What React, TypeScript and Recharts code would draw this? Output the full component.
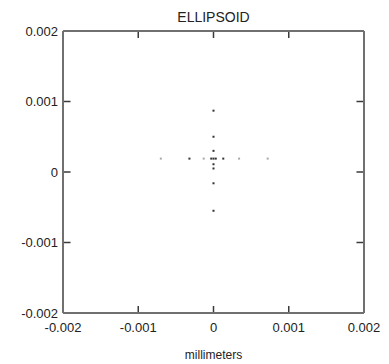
import React from 'react';
import { ScatterChart, Scatter, XAxis, YAxis, Label, ReferenceLine } from 'recharts';

// values (millimeters)
const axisTicks = [-0.002, -0.001, 0, 0.001, 0.002];
const innerTicks = [-0.001, 0, 0.001];
const rowY = 0.00019;
const columnY = [0.00087, 0.0005, 0.0003, 0.00011, 0.00005, -0.00016, -0.00055];
const rowXDark = [-0.00032, -0.00003, 0, 0.00003, 0.00013];
const rowXFaint = [-0.0007, -0.00013, 0.00034, 0.00072];

const darkPoints = [
  ...columnY.map(y => ({ x: 0, y })),
  ...rowXDark.map(x => ({ x, y: rowY })),
];
const faintPoints = rowXFaint.map(x => ({ x, y: rowY }));

const LO = -0.002;
const HI = 0.002;
const TICK_LEN = 0.0001; // inward tick length in data units (~7px)

const FONT = '"Liberation Sans", Arial, sans-serif';
const BORDER = '#707070';
const TICK = '#3a3a3a';

const Dot = (color: string) => (props: any) => (
  <rect x={props.cx - 1} y={props.cy - 1} width={2} height={2} fill={color} />
);

const BottomLabel = (props: any) => (
  <text x={props.x} y={props.y + 19} textAnchor="middle" fontSize={13} fill="#222" fontFamily={FONT}>
    {String(props.payload.value)}
  </text>
);

const LeftLabel = (props: any) => (
  <text x={props.x - 5} y={props.y + 4.5} textAnchor="end" fontSize={13} fill="#222" fontFamily={FONT}>
    {String(props.payload.value)}
  </text>
);

const NoLabel = () => <g />;

export default function App() {
  const axisLine = { stroke: BORDER, strokeWidth: 2 };
  return (
    <div style={{ position: 'fixed', left: 0, top: 0, width: 389, height: 364, background: '#fff' }}>
      <ScatterChart width={389} height={364} margin={{ top: 0, right: 0, bottom: 0, left: 0 }}>
        <XAxis
          xAxisId="bottom"
          type="number"
          dataKey="x"
          domain={[LO, HI]}
          ticks={axisTicks}
          allowDataOverflow
          height={51}
          tickSize={0}
          tickMargin={0}
          tickLine={false}
          tick={BottomLabel}
          axisLine={axisLine}
        >
          <Label value="millimeters" position="insideBottom" offset={5} style={{ fontSize: 12, fill: '#222', fontFamily: FONT }} />
        </XAxis>
        <XAxis
          xAxisId="top"
          orientation="top"
          type="number"
          dataKey="x"
          domain={[LO, HI]}
          ticks={axisTicks}
          allowDataOverflow
          height={31}
          tickSize={0}
          tickLine={false}
          tick={NoLabel}
          axisLine={axisLine}
        >
          <Label value="ELLIPSOID" position="insideTop" offset={12} style={{ fontSize: 14, fill: '#222', fontFamily: FONT }} />
        </XAxis>
        <YAxis
          yAxisId="left"
          type="number"
          dataKey="y"
          domain={[LO, HI]}
          ticks={axisTicks}
          allowDataOverflow
          width={63}
          tickSize={0}
          tickMargin={0}
          tickLine={false}
          tick={LeftLabel}
          axisLine={axisLine}
        />
        <YAxis
          yAxisId="right"
          orientation="right"
          type="number"
          dataKey="y"
          domain={[LO, HI]}
          ticks={axisTicks}
          allowDataOverflow
          width={25}
          tickSize={0}
          tickLine={false}
          tick={NoLabel}
          axisLine={axisLine}
        />
        {innerTicks.map(t => (
          <ReferenceLine key={`b${t}`} xAxisId="bottom" yAxisId="left" segment={[{ x: t, y: LO }, { x: t, y: LO + TICK_LEN }]} stroke={TICK} strokeWidth={1.5} />
        ))}
        {innerTicks.map(t => (
          <ReferenceLine key={`t${t}`} xAxisId="bottom" yAxisId="left" segment={[{ x: t, y: HI }, { x: t, y: HI - TICK_LEN }]} stroke={TICK} strokeWidth={1.5} />
        ))}
        {innerTicks.map(t => (
          <ReferenceLine key={`l${t}`} xAxisId="bottom" yAxisId="left" segment={[{ x: LO, y: t }, { x: LO + TICK_LEN, y: t }]} stroke={TICK} strokeWidth={1.5} />
        ))}
        {innerTicks.map(t => (
          <ReferenceLine key={`r${t}`} xAxisId="bottom" yAxisId="left" segment={[{ x: HI, y: t }, { x: HI - TICK_LEN, y: t }]} stroke={TICK} strokeWidth={1.5} />
        ))}
        <Scatter xAxisId="bottom" yAxisId="left" data={faintPoints} shape={Dot('#a8a8a8')} isAnimationActive={false} />
        <Scatter xAxisId="top" yAxisId="right" data={darkPoints} shape={Dot('#333')} isAnimationActive={false} />
      </ScatterChart>
    </div>
  );
}
